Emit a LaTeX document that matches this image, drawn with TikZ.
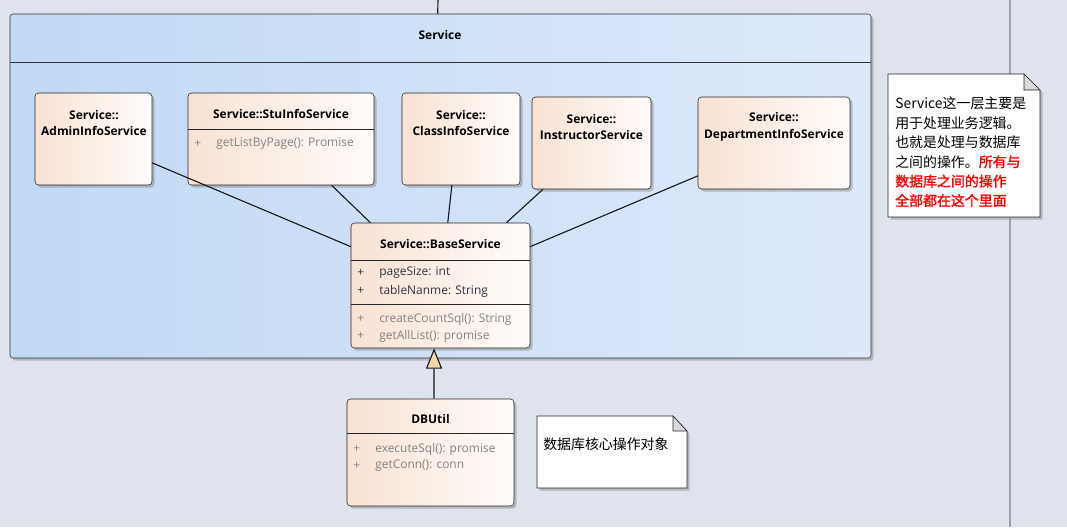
\documentclass[tikz,border=0pt]{standalone}
\usepackage{fontspec}
\setmainfont{Open Sans}
\newfontfamily\cjk[AutoFakeBold=1.5]{Noto Sans CJK SC}
\usepackage{tikz}
\usetikzlibrary{fit,shadows,arrows.meta}

\definecolor{bgC}{RGB}{223,227,237}
\definecolor{pkgL}{RGB}{193,217,245}
\definecolor{pkgR}{RGB}{221,233,250}
\definecolor{clsL}{RGB}{248,226,211}
\definecolor{clsR}{RGB}{255,252,250}
\definecolor{attrC}{RGB}{50,50,64}
\definecolor{operC}{RGB}{130,130,130}
\definecolor{triC}{RGB}{247,213,165}
\definecolor{foldC}{RGB}{218,218,218}
\definecolor{railC}{RGB}{160,160,168}

\tikzset{
  shad/.style={drop shadow={shadow xshift=1.8pt, shadow yshift=-1.8pt, fill=black!45, opacity=0.5}},
  pkg/.style={draw=black!80, rounded corners=2pt, left color=pkgL, right color=pkgR, inner sep=0pt, shad},
  cls/.style={draw=black!85, rounded corners=2.5pt, left color=clsL, right color=clsR, inner sep=0pt, shad},
  ttl/.style={font=\fontsize{8.5}{12}\selectfont\bfseries, align=center, inner sep=0pt},
  attr/.style={font=\fontsize{8.5}{12}\selectfont, text=attrC, anchor=west, inner sep=0pt},
  oper/.style={attr, text=operC},
  link/.style={draw=black!90, line width=0.8pt},
  notebox/.style={draw=black!85, fill=white, shad},
  notetxt/.style={font=\cjk\fontsize{9.9}{13.8}\selectfont, align=left, anchor=west, inner sep=0pt},
}

\begin{document}
\begin{tikzpicture}[x=0.025cm, y=-0.025cm]
\useasboundingbox (0,0) rectangle (1067,527);
\fill[bgC] (0,0) rectangle (1067,527);
\draw[railC, line width=1.5pt] (1010,0) -- (1010,527);

% package
\node[pkg, fit={(10,14) (871,358)}] (pkg) {};
\draw[black!80] (pkg.west |- 0,62) -- (pkg.east |- 0,62);
\node[ttl] (pkgT) at (440,35) {Service};
\coordinate (top) at (438,0);
\draw[link] (top) -- ([xshift=-2pt]pkg.north);

% classes
\node[cls, fit={(35,93) (152,185)}] (admin) {};
\node[ttl] (adminT) at (94,123) {Service::\\AdminInfoService};

\node[cls, fit={(188,93) (374,185)}] (stu) {};
\node[ttl] (stuT) at (281,114) {Service::StuInfoService};
\draw[black!85] (stu.west |- 0,129) -- (stu.east |- 0,129);
\node[oper] (stuP) at (194,144) {+};
\node[oper] (stuO) at (216,144) {getListByPage(): Promise};

\node[cls, fit={(402,93) (520,185)}] (class) {};
\node[ttl] (classT) at (461,123) {Service::\\ClassInfoService};

\node[cls, fit={(532,97) (651,189)}] (instr) {};
\node[ttl] (instrT) at (591.5,127) {Service::\\InstructorService};

\node[cls, fit={(698,97) (850,189)}] (dept) {};
\node[ttl] (deptT) at (774,127) {Service::\\DepartmentInfoService};

\node[cls, fit={(351,223) (530,348)}] (base) {};
\node[ttl] (baseT) at (440.5,244) {Service::BaseService};
\draw[black!85] (base.west |- 0,260) -- (base.east |- 0,260);
\node[attr] (baseP1) at (357,273) {+};
\node[attr] (baseA1) at (379,273) {pageSize: int};
\node[attr] (baseP2) at (357,291) {+};
\node[attr] (baseA2) at (379,291) {tableNanme: String};
\draw[black!85] (base.west |- 0,304) -- (base.east |- 0,304);
\node[oper] (baseP3) at (357,319) {+};
\node[oper] (baseO1) at (379,319) {createCountSql(): String};
\node[oper] (baseP4) at (357,336) {+};
\node[oper] (baseO2) at (379,336) {getAllList(): promise};

\node[cls, fit={(347,399) (514,506)}] (db) {};
\node[ttl] (dbT) at (430.5,419) {DBUtil};
\draw[black!85] (db.west |- 0,433) -- (db.east |- 0,433);
\node[oper] (dbP1) at (353,449) {+};
\node[oper] (dbO1) at (375,449) {executeSql(): promise};
\node[oper] (dbP2) at (353,466) {+};
\node[oper] (dbO2) at (375,466) {getConn(): conn};

% connectors
\draw[link] ([yshift=-17pt]admin.east) -- ([yshift=-17pt]base.north west);
\draw[link] ([xshift=36pt]stu.south) -- ([xshift=14pt]base.north west);
\draw[link] ([xshift=-6.5pt]class.south) -- ([xshift=69pt]base.north west);
\draw[link] ([xshift=8pt]instr.south west) -- ([xshift=-17pt]base.north east);
\draw[link] ([yshift=-23.4pt]dept.west) -- ([yshift=-17pt]base.north east);
\draw[link, -{Triangle[width=11.5pt, length=14.5pt, fill=triC]}] ([xshift=2.5pt]db.north) -- ([xshift=-4.6pt]base.south);

% notes
\draw[notebox] (888,74) -- (1024,74) -- (1040,90) -- (1040,217) -- (888,217) -- cycle;
\filldraw[draw=black!85, fill=foldC] (1024,74) -- (1024,90) -- (1040,90) -- cycle;
\node[notetxt] (noteA) at (895,152) {Service这一层主要是\\用于处理业务逻辑。\\也就是处理与数据库\\之间的操作。{\color{red}\bfseries 所有与}\\{\color{red}\bfseries 数据库之间的操作}\\{\color{red}\bfseries 全部都在这个里面}};

\draw[notebox] (537,416) -- (673,416) -- (687,431) -- (687,488) -- (537,488) -- cycle;
\filldraw[draw=black!85, fill=foldC] (673,416) -- (673,431) -- (687,431) -- cycle;
\node[notetxt] (noteB) at (543,444) {数据库核心操作对象};
\end{tikzpicture}
\end{document}
